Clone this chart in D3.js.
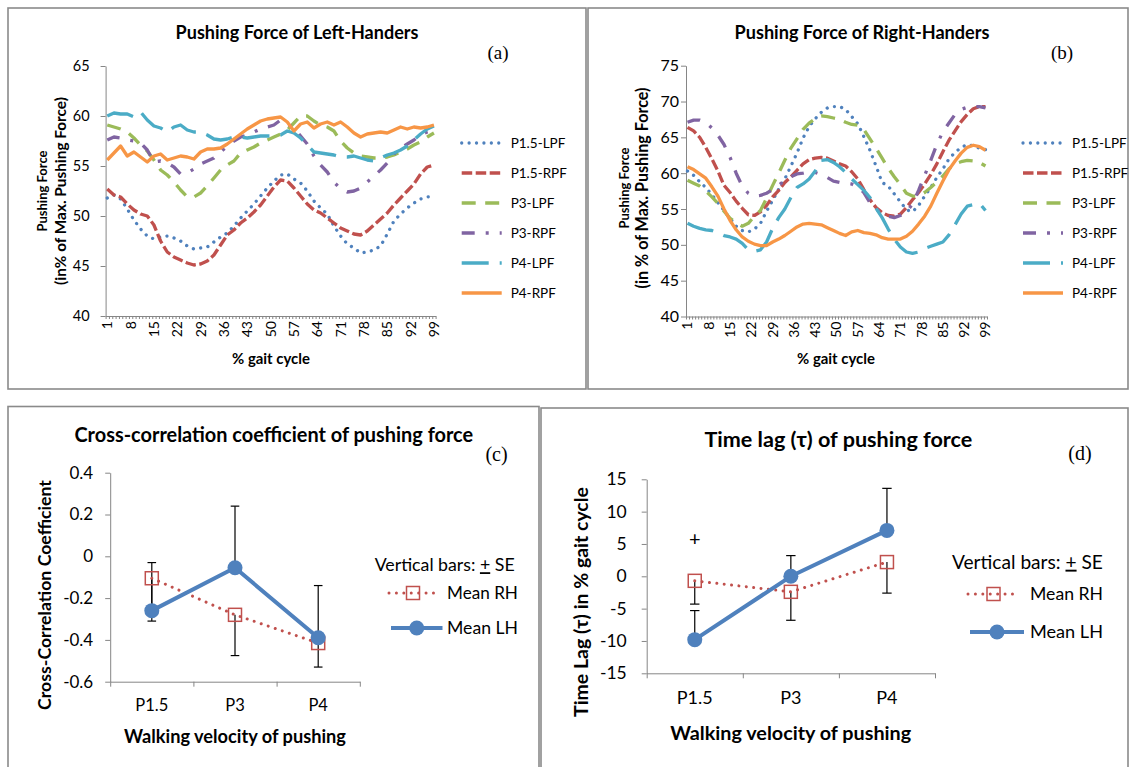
<!DOCTYPE html>
<html>
<head>
<meta charset="utf-8">
<script src="https://cdn.jsdelivr.net/npm/d3@7"></script>
<style>
  body { margin: 0; background: #fff; }
  svg { display: block; }
  text { font-family: Lato, "Open Sans", sans-serif; fill: #000; }
</style>
</head>
<body>
<svg id="chart" width="1131" height="767"></svg>
<script>
// ---------- data ----------
// gait cycle positions (percent) at which force was sampled
const gaitPct = [1,3,5,7,9,11,13,15,17,19,21,23,25,27,29,31,33,35,37,39,41,43,45,47,49,
                 51,53,55,57,59,61,63,65,67,69,71,73,75,77,79,81,83,85,87,89,91,93,95,97,99];
const gaitTicks = [1,8,15,22,29,36,43,50,57,64,71,78,85,92,99];
const seriesNames = ["P1.5-LPF","P1.5-RPF","P3-LPF","P3-RPF","P4-LPF","P4-RPF"];

// left-handers, pushing force in % of max
const leftP15LPF = [51.8,52.1,51.7,50.7,49.6,48.7,48.0,47.7,47.9,48.0,47.8,47.5,47.0,46.7,46.8,46.9,47.4,47.9,48.3,49.0,
                    49.8,50.5,51.2,52.0,52.8,53.5,54.1,54.2,53.7,53.3,52.5,51.5,50.8,50.2,49.0,48.0,47.2,46.8,46.3,46.4,
                    46.6,47.0,48.2,49.5,50.2,50.8,51.3,51.7,51.9,52.0];
const leftP15RPF = [52.7,52.1,51.9,51.2,50.6,50.2,50.0,49.1,47.5,46.4,45.9,45.6,45.3,45.1,45.2,45.5,46.1,47.1,48.1,48.6,
                    49.3,49.8,50.4,51.1,52.0,52.9,53.6,53.5,52.8,52.0,51.2,50.6,50.3,49.8,49.3,48.8,48.5,48.2,48.1,48.5,
                    49.1,49.7,50.3,51.1,51.8,52.5,53.2,54.2,54.9,55.1];
const leftP3LPF  = [59.1,58.9,58.7,58.4,57.8,57.1,56.5,55.6,54.6,54.1,53.4,52.6,51.9,51.9,52.3,53.0,53.8,54.6,55.1,55.5,
                    56.3,56.6,56.9,57.3,57.6,57.9,58.2,58.6,59.3,60.0,60.0,59.5,59.1,58.9,58.5,57.5,56.8,56.3,56.0,55.9,
                    55.8,55.8,55.9,56.1,56.4,56.7,57.1,57.4,57.9,58.3];
const leftP3RPF  = [57.6,57.9,57.8,57.6,57.5,57.3,56.6,55.4,55.5,55.3,54.9,54.2,54.3,54.7,55.2,55.5,55.8,56.4,57.0,57.5,
                    57.9,58.1,58.4,58.7,58.9,59.1,59.6,59.2,58.8,58.0,57.2,56.0,55.1,54.4,53.4,52.7,52.4,52.5,52.8,53.4,
                    54.0,54.6,55.3,56.2,56.8,57.2,57.6,58.1,58.4,58.6];
const leftP4LPF  = [60.0,60.3,60.2,60.2,59.9,60.4,59.6,59.0,58.8,58.4,58.9,59.1,58.6,58.4,58.4,58.1,57.7,57.6,57.7,57.9,
                    57.9,57.8,57.9,58.0,58.0,58.0,58.1,58.5,58.3,57.8,57.1,56.4,56.3,56.2,56.1,55.9,55.9,56.0,55.8,55.6,
                    55.5,55.8,56.1,56.3,56.6,57.0,57.6,58.2,58.7,59.0];
const leftP4RPF  = [55.6,56.3,57.0,56.0,56.4,55.9,55.4,56.0,56.2,55.6,55.8,56.0,55.9,55.7,56.4,56.7,56.7,56.8,57.2,57.7,
                    58.2,58.7,59.1,59.5,59.7,59.8,59.9,59.4,58.5,59.2,59.4,58.8,59.2,59.4,59.1,59.4,58.9,58.3,57.9,58.2,
                    58.3,58.4,58.3,58.6,58.9,58.7,58.9,58.8,58.9,59.1];

// right-handers, pushing force in % of max
const rightP15LPF = [60.3,59.7,58.8,58.0,57.0,55.9,54.8,53.7,52.6,52.0,51.8,52.2,53.0,54.7,56.2,57.8,59.2,61.0,62.8,64.9,
                     66.5,67.6,68.5,69.1,69.3,69.3,68.9,67.9,66.9,65.1,63.2,61.0,58.7,58.2,57.1,56.0,54.9,54.6,55.5,56.8,
                     58.0,59.4,60.6,62.0,62.9,63.6,64.0,63.8,63.5,63.3];
const rightP15RPF = [66.4,65.9,65.0,63.6,62.0,60.3,58.3,57.3,56.1,55.1,54.2,54.1,54.6,55.5,56.7,57.6,58.7,59.5,60.4,61.3,
                     61.9,62.1,62.2,62.1,61.7,61.3,61.0,60.2,59.2,57.7,56.3,55.2,54.5,54.1,54.0,54.3,55.2,56.3,57.3,58.5,
                     59.8,61.3,63.0,64.6,65.9,67.2,68.2,69.0,69.3,69.3];
const rightP3LPF  = [59.0,58.6,58.2,57.5,56.7,55.8,54.7,53.7,53.1,52.6,53.0,54.0,54.8,56.5,58.3,60.0,61.8,63.5,64.8,66.1,
                     67.0,67.6,68.0,67.9,67.7,67.5,67.1,66.8,66.7,66.1,64.8,63.5,62.1,60.7,59.5,58.4,57.2,56.8,56.8,57.3,
                     58.0,58.8,59.6,60.6,61.3,61.6,61.8,61.7,61.5,61.0];
const rightP3RPF  = [67.1,67.4,67.4,67.1,66.3,65.3,64.0,62.2,60.0,58.2,57.2,56.8,56.9,57.2,57.7,58.3,59.0,59.5,59.9,60.0,
                     60.2,60.1,59.8,59.4,58.9,58.7,58.6,58.5,58.1,57.3,55.9,55.0,54.4,54.0,53.8,54.1,54.6,55.7,57.6,59.7,
                     61.8,64.0,65.8,67.0,68.2,68.9,69.2,69.3,69.3,69.1];
const rightP4LPF  = [53.0,52.6,52.3,52.1,52.0,51.7,51.3,51.1,50.8,50.2,49.3,49.1,49.3,50.4,52.3,53.8,55.0,56.6,58.0,58.5,
                     59.2,60.3,61.8,61.9,61.5,60.9,60.1,59.2,58.4,57.6,56.6,55.1,53.8,52.2,50.8,49.7,49.0,48.8,49.0,49.5,
                     49.8,50.1,50.4,51.4,52.8,54.3,55.4,55.6,55.8,54.8];
const rightP4RPF  = [60.9,60.5,59.9,59.3,58.1,56.8,55.0,53.4,52.1,51.1,50.5,50.1,49.9,49.9,50.4,50.8,51.3,51.9,52.5,52.9,
                     53.0,52.9,52.8,52.4,52.0,51.6,51.3,51.8,52.0,51.7,51.6,51.4,51.0,50.8,50.8,50.8,51.2,51.9,52.9,54.0,
                     55.4,57.2,58.9,60.5,61.7,62.8,63.6,63.9,63.7,63.2];

// summary statistics per walking velocity
const velocities = ["P1.5","P3","P4"];
const corrMeanRH = [-0.105,-0.28,-0.415];
const corrMeanLH = [-0.26,-0.055,-0.39];
const corrSeRH   = [0.205,0.195,0.115];
const corrSeLH   = [0.23,0.295,0.25];
const lagMeanRH  = [-0.7,-2.4,2.2];
const lagMeanLH  = [-9.8,0.0,7.1];
const lagSeRH    = [3.6,4.4,4.8];
const lagSeLH    = [4.5,3.2,6.5];
const lagMarkValue = 5.8;   // "+" marker above P1.5

// ---------- drawing ----------
const svg = d3.select("#chart");
svg.append("rect").attr("width",1131).attr("height",767).attr("fill","#fff");

const AXIS = "#868686";
const BLUE = "#4F81BD", RED = "#C0504D";

const seriesStyles = [
  {color:"#4F81BD", dash:"0.01 7.4", cap:"round", width:3.3},
  {color:"#C0504D", dash:"10.5 3.5", cap:"butt",  width:3.3},
  {color:"#9BBB59", dash:"14 9.5",   cap:"butt",  width:3.3},
  {color:"#8064A2", dash:"13 11 3 11", cap:"butt", width:3.3},
  {color:"#4BACC6", dash:"27 11",    cap:"butt",  width:3.3},
  {color:"#F79646", dash:null,       cap:"butt",  width:3.3}
];

function styleAxis(g) {
  g.attr("font-family", null).attr("font-size", null);
  g.select(".domain").attr("stroke", AXIS).attr("stroke-width", 1);
  g.selectAll(".tick line").attr("stroke", AXIS);
  g.selectAll(".tick text").attr("fill", "#000");
}

function addText(parent, txt, x, y, opt = {}) {
  const t = parent.append("text")
    .attr("x", x).attr("y", y)
    .attr("text-anchor", opt.anchor || "middle")
    .attr("dy", opt.dy || "0.35em")
    .attr("font-size", opt.size || 14)
    .attr("font-weight", opt.bold ? "bold" : null)
    .text(txt);
  if (opt.family) t.style("font-family", opt.family);
  if (opt.rotate) t.attr("transform", `rotate(${opt.rotate},${x},${y})`);
  if (opt.fit) {
    const w = t.node().getComputedTextLength();
    t.attr("font-size", (opt.size || 14) * opt.fit / w);
  }
  return t;
}

// panel frames
[
  {x:8,   y:8,     w:578, h:381},
  {x:588, y:8,     w:540, h:381},
  {x:8,   y:406.5, w:531, h:380},
  {x:541, y:408,   w:587, h:380}
].forEach(p => svg.append("rect")
  .attr("x", p.x).attr("y", p.y).attr("width", p.w).attr("height", p.h)
  .attr("fill", "none").attr("stroke", "#8a8a8a").attr("stroke-width", 1.6));

function drawForcePanel(p) {
  const g = svg.append("g");
  const x = d3.scaleLinear().domain([0.5, 99.5]).range([p.x0, p.x1]);
  const y = d3.scaleLinear().domain(p.yDomain).range([p.yBottom, p.yTop]);

  const gy = g.append("g").attr("transform", `translate(${p.x0},0)`)
    .call(d3.axisLeft(y).tickValues(p.yTicks).tickSize(5).tickSizeOuter(0).tickPadding(p.yPad));
  styleAxis(gy);
  gy.selectAll(".tick text").attr("font-size", p.yTickFont);

  const gx = g.append("g").attr("transform", `translate(0,${p.yBottom})`)
    .call(d3.axisBottom(x).tickValues(d3.range(0.5, 100, 1)).tickSize(3).tickSizeOuter(0).tickFormat(""));
  styleAxis(gx);

  g.append("g").selectAll("text").data(gaitTicks).join("text")
    .attr("transform", d => `translate(${x(d)},${p.yBottom + 5}) rotate(-90)`)
    .attr("text-anchor", "end").attr("dy", "0.35em")
    .attr("font-size", p.xTickFont).text(d => d);

  const line = d3.line().x((d, i) => x(gaitPct[i])).y(d => y(d));
  p.series.forEach((vals, k) => {
    const st = seriesStyles[k];
    g.append("path").attr("d", line(vals))
      .attr("fill", "none").attr("stroke", st.color).attr("stroke-width", st.width)
      .attr("stroke-dasharray", st.dash).attr("stroke-linecap", st.cap)
      .attr("stroke-linejoin", "round");
  });

  // legend
  seriesNames.forEach((name, k) => {
    const st = seriesStyles[k];
    const ly = p.legY0 + k * p.legDy;
    g.append("line").attr("x1", p.legX).attr("x2", p.legX + 40).attr("y1", ly).attr("y2", ly)
      .attr("stroke", st.color).attr("stroke-width", st.width)
      .attr("stroke-dasharray", st.dash).attr("stroke-linecap", st.cap);
    addText(g, name, p.legX + 49, ly, {anchor: "start", size: p.legFont});
  });

  addText(g, p.title, p.titleX, 33, {bold: true, size: 15, fit: p.titleW});
  addText(g, p.tag, p.tagX, 52, {size: 19, family: '"Liberation Serif", serif'});
  addText(g, p.yTitle1, p.yTitleX1, p.yTitleY, {bold: true, size: 13, rotate: -90});
  addText(g, p.yTitle2, p.yTitleX2, p.yTitleY, {bold: true, size: 13, rotate: -90, fit: p.yTitleW});
  addText(g, "% gait cycle", p.xTitleX, 359, {bold: true, size: 13, fit: 78});
}

drawForcePanel({
  x0: 105.6, x1: 435.6, yBottom: 316, yTop: 66, yDomain: [40, 65], yTicks: [40,45,50,55,60,65],
  yPad: 11, yTickFont: 14.5, xTickFont: 14,
  series: [leftP15LPF, leftP15RPF, leftP3LPF, leftP3RPF, leftP4LPF, leftP4RPF],
  legX: 461.7, legY0: 143, legDy: 30, legFont: 13.5,
  title: "Pushing Force of Left-Handers", titleX: 297, titleW: 243,
  tag: "(a)", tagX: 498,
  yTitle1: "Pushing Force", yTitle2: "(in% of Max. Pushing Force)",
  yTitleX1: 42, yTitleX2: 61, yTitleY: 191, yTitleW: 188,
  xTitleX: 271
});

drawForcePanel({
  x0: 686, x1: 987, yBottom: 316.5, yTop: 65.7, yDomain: [40, 75], yTicks: [40,45,50,55,60,65,70,75],
  yPad: 2, yTickFont: 16, xTickFont: 14,
  series: [rightP15LPF, rightP15RPF, rightP3LPF, rightP3RPF, rightP4LPF, rightP4RPF],
  legX: 1023, legY0: 143, legDy: 30, legFont: 13.5,
  title: "Pushing Force of Right-Handers", titleX: 862, titleW: 255,
  tag: "(b)", tagX: 1062,
  yTitle1: "Pushing Force", yTitle2: "(in % of Max. Pushing Force)",
  yTitleX1: 624, yTitleX2: 642, yTitleY: 188, yTitleW: 201,
  xTitleX: 836
});

function drawSummaryPanel(p) {
  const g = svg.append("g");
  const x = d3.scaleBand().domain(velocities).range([p.x0, p.x1]);
  const cx = d => x(d) + x.bandwidth() / 2;
  const y = d3.scaleLinear().domain(p.yDomain).range([p.yBottom, p.yTop]);

  const gy = g.append("g").attr("transform", `translate(${p.x0},0)`)
    .call(d3.axisLeft(y).tickValues(p.yTicks).tickSize(5).tickSizeOuter(0)
      .tickPadding(p.yPad).tickFormat(p.fmt));
  styleAxis(gy);
  gy.selectAll(".tick text").attr("font-size", p.tickFont);

  const edges = d3.scaleLinear().domain([0, velocities.length]).range([p.x0, p.x1]);
  const gx = g.append("g").attr("transform", `translate(0,${p.yBottom})`)
    .call(d3.axisBottom(edges).tickValues(d3.range(0, velocities.length + 1)).tickSize(5)
      .tickSizeOuter(0).tickFormat(""));
  styleAxis(gx);

  velocities.forEach(v => addText(g, v, cx(v), p.yBottom + 24, {size: p.catFont}));

  // error bars: left-handers upward, right-handers downward
  const bars = velocities.flatMap((v, i) => [
    {x: cx(v), from: p.meanLH[i], to: p.meanLH[i] + p.seLH[i]},
    {x: cx(v), from: p.meanRH[i], to: p.meanRH[i] - p.seRH[i]}
  ]);
  const eb = g.append("g").attr("stroke", "#000").attr("stroke-width", 1.2);
  bars.forEach(b => {
    eb.append("line").attr("x1", b.x).attr("x2", b.x).attr("y1", y(b.from)).attr("y2", y(b.to));
    eb.append("line").attr("x1", b.x - p.cap).attr("x2", b.x + p.cap).attr("y1", y(b.to)).attr("y2", y(b.to));
  });

  const half = p.sq / 2;
  const line = d3.line().x((d, i) => cx(velocities[i])).y(d => y(d));
  g.append("path").attr("d", line(p.meanRH)).attr("fill", "none")
    .attr("stroke", RED).attr("stroke-width", 3).attr("stroke-dasharray", "0.01 7.4")
    .attr("stroke-linecap", "round");
  g.selectAll(".sq").data(p.meanRH).join("rect")
    .attr("x", (d, i) => cx(velocities[i]) - half).attr("y", d => y(d) - half)
    .attr("width", p.sq).attr("height", p.sq)
    .attr("fill", "none").attr("stroke", RED).attr("stroke-width", 1.5);

  g.append("path").attr("d", line(p.meanLH)).attr("fill", "none")
    .attr("stroke", BLUE).attr("stroke-width", 4).attr("stroke-linejoin", "round");
  g.selectAll(".dot").data(p.meanLH).join("circle")
    .attr("cx", (d, i) => cx(velocities[i])).attr("cy", d => y(d)).attr("r", p.r)
    .attr("fill", BLUE);

  if (p.mark != null) addText(g, "+", cx(velocities[0]), y(p.mark), {size: 20});

  // legend
  const lt = g.append("text").attr("x", p.legX).attr("y", p.legY).attr("dy", "0.35em").attr("font-size", 16);
  lt.append("tspan").text("Vertical bars: ");
  lt.append("tspan").style("text-decoration", "underline").text("+");
  lt.append("tspan").text(" SE");
  lt.attr("font-size", 16 * p.legW / lt.node().getComputedTextLength());

  const [r1, r2] = p.rhLine, [l1, l2] = p.lhLine;
  g.append("line").attr("x1", r1).attr("x2", r2).attr("y1", p.rhY).attr("y2", p.rhY)
    .attr("stroke", RED).attr("stroke-width", 3).attr("stroke-dasharray", "0.01 7.4")
    .attr("stroke-linecap", "round");
  g.append("rect").attr("x", (r1 + r2) / 2 - half).attr("y", p.rhY - half).attr("width", p.sq).attr("height", p.sq)
    .attr("fill", "none").attr("stroke", RED).attr("stroke-width", 1.5);
  addText(g, "Mean RH", p.legTextX, p.rhY, {anchor: "start", size: 16, fit: p.meanW});

  g.append("line").attr("x1", l1).attr("x2", l2).attr("y1", p.lhY).attr("y2", p.lhY)
    .attr("stroke", BLUE).attr("stroke-width", 4);
  g.append("circle").attr("cx", (l1 + l2) / 2).attr("cy", p.lhY).attr("r", p.r).attr("fill", BLUE);
  addText(g, "Mean LH", p.legTextX, p.lhY, {anchor: "start", size: 16, fit: p.meanW});

  addText(g, p.title, p.titleX, p.titleY, {bold: true, size: 17, fit: p.titleW});
  addText(g, p.tag, p.tagX, p.tagY, {size: 20, family: '"Liberation Serif", serif'});
  addText(g, p.yTitle, p.yTitleX, p.yTitleY, {bold: true, size: 16, rotate: -90, fit: 230});
  addText(g, "Walking velocity of pushing", p.xTitleX, p.xTitleY, {bold: true, size: 16, fit: p.xTitleW});
}

drawSummaryPanel({
  x0: 110.2, x1: 359.8, yBottom: 681.7, yTop: 472.7, yDomain: [-0.6, 0.4],
  yTicks: [-0.6, -0.4, -0.2, 0, 0.2, 0.4], yPad: 12, tickFont: 17, catFont: 16.5,
  fmt: d => (Math.abs(d) < 1e-9 ? "0" : d.toFixed(1)),
  meanRH: corrMeanRH, meanLH: corrMeanLH, seRH: corrSeRH, seLH: corrSeLH, mark: null,
  cap: 4.3, sq: 13, r: 7.5,
  legX: 374.7, legY: 565, legW: 140,
  rhY: 593, rhLine: [389, 437], lhY: 628, lhLine: [391, 442.5], legTextX: 447, meanW: 71,
  title: "Cross-correlation coefficient of pushing force", titleX: 273.8, titleY: 435, titleW: 399,
  tag: "(c)", tagX: 496.5, tagY: 454,
  yTitle: "Cross-Correlation Coefficient", yTitleX: 44.8, yTitleY: 595,
  xTitleX: 235, xTitleY: 737, xTitleW: 222
});

drawSummaryPanel({
  x0: 646.7, x1: 935, yBottom: 673.3, yTop: 479.3, yDomain: [-15, 15],
  yTicks: [-15, -10, -5, 0, 5, 10, 15], yPad: 15, tickFont: 17.5, catFont: 18,
  fmt: d => String(d),
  meanRH: lagMeanRH, meanLH: lagMeanLH, seRH: lagSeRH, seLH: lagSeLH, mark: lagMarkValue,
  cap: 4.7, sq: 13, r: 7.5,
  legX: 952, legY: 562, legW: 151,
  rhY: 594, rhLine: [968, 1019], lhY: 632, lhLine: [970, 1024], legTextX: 1030, meanW: 73,
  title: "Time lag (\u03c4) of pushing force", titleX: 838.4, titleY: 439, titleW: 268,
  tag: "(d)", tagX: 1080, tagY: 453,
  yTitle: "Time Lag (\u03c4) in % gait cycle", yTitleX: 581.5, yTitleY: 602,
  xTitleX: 790.7, xTitleY: 733, xTitleW: 241
});
</script>
</body>
</html>
